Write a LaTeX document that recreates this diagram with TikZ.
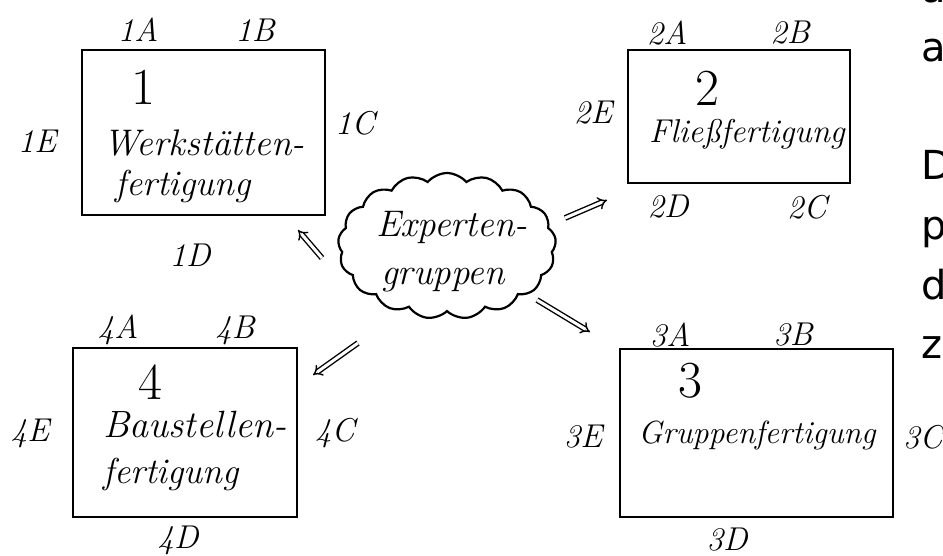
\documentclass[tikz,border=0pt]{standalone}
\usepackage{fontspec}
\newfontfamily\edgefont{DejaVu Sans}
\usetikzlibrary{arrows.meta,shapes.symbols}
\definecolor{skInk}{RGB}{0,0,0}

\tikzset{
  station/.style={draw=skInk, line width=2.6pt, inner sep=0pt},
  corner/.style={font=\fontsize{33pt}{36pt}\selectfont\itshape, text=skInk, inner sep=0pt},
  stnum/.style={font=\fontsize{52pt}{56pt}\selectfont, text=skInk, anchor=base, inner sep=0pt},
  sttext/.style={font=\fontsize{36pt}{40pt}\selectfont\itshape, text=skInk, anchor=base, inner sep=0pt},
  hint/.style={skInk, double, double distance=3pt, line width=1.4pt, -{Implies[scale=1.3]}},
  edgetxt/.style={font=\edgefont\fontsize{40pt}{44pt}\selectfont, anchor=base west, inner sep=0pt}
}

\begin{document}
\begin{tikzpicture}[x=1pt, y=-1pt]
  \useasboundingbox (0,0) rectangle (943,556);
  \clip (0,0) rectangle (943,556);

  % Box 1
  \node[station, minimum width=243pt, minimum height=165pt] (box1) at (203.5,132.5) {};
  \node[stnum] (num1) at (143,105) {1};
  \node[sttext, font=\fontsize{37pt}{40pt}\selectfont\itshape] (txt1a) at (204,156) {Werkstätten-};
  \node[sttext] (txt1b) at (183,196) {fertigung};
  \node[corner] (c1A) at (138,30) {1A};
  \node[corner] (c1B) at (255,30) {1B};
  \node[corner] (c1C) at (355,123) {1C};
  \node[corner] (c1D) at (190,255) {1D};
  \node[corner] (c1E) at (37,141) {1E};

  % Box 2
  \node[station, minimum width=222pt, minimum height=133pt] (box2) at (739,116.5) {};
  \node[stnum] (num2) at (707,106) {2};
  \node[sttext, font=\fontsize{33pt}{36pt}\selectfont\itshape] (txt2) at (747,143) {Fließfertigung};
  \node[corner] (c2A) at (667,33) {2A};
  \node[corner] (c2B) at (790,33) {2B};
  \node[corner] (c2C) at (807,207) {2C};
  \node[corner] (c2D) at (668,207) {2D};
  \node[corner] (c2E) at (593,113) {2E};

  % Box 3
  \node[station, minimum width=273pt, minimum height=168pt] (box3) at (756.5,433) {};
  \node[stnum] (num3) at (690,397) {3};
  \node[sttext, font=\fontsize{32pt}{36pt}\selectfont\itshape] (txt3) at (757,443) {Gruppenfertigung};
  \node[corner] (c3A) at (670,335) {3A};
  \node[corner] (c3B) at (793,335) {3B};
  \node[corner] (c3C) at (923,437) {3C};
  \node[corner] (c3D) at (727,540) {3D};
  \node[corner] (c3E) at (583,437) {3E};

  % Box 4
  \node[station, minimum width=224pt, minimum height=169pt] (box4) at (185,432.5) {};
  \node[stnum] (num4) at (150,399) {4};
  \node[sttext, font=\fontsize{38pt}{42pt}\selectfont\itshape] (txt4a) at (195,437) {Baustellen-};
  \node[sttext] (txt4b) at (171,483) {fertigung};
  \node[corner] (c4A) at (118,330) {4A};
  \node[corner] (c4B) at (235,330) {4B};
  \node[corner] (c4C) at (335,433) {4C};
  \node[corner] (c4D) at (178,540) {4D};
  \node[corner] (c4E) at (30,433) {4E};

  % Expert cloud
  \node[cloud, draw=skInk, line width=2.2pt, cloud puffs=17, cloud puff arc=100, aspect=1.5,
        minimum width=218pt, minimum height=146pt, inner sep=0pt] (expert) at (447,246) {};
  \node[sttext, font=\fontsize{37pt}{40pt}\selectfont\itshape] (exptA) at (452,237) {Experten-};
  \node[sttext, font=\fontsize{37pt}{40pt}\selectfont\itshape] (exptB) at (443,285) {gruppen};

  % Arrows towards the stations
  \coordinate (a1s) at (322,258); \coordinate (a1e) at (298,230);
  \coordinate (a2s) at (565,218); \coordinate (a2e) at (607,200);
  \coordinate (a3s) at (537,300); \coordinate (a3e) at (590,332);
  \coordinate (a4s) at (358,343); \coordinate (a4e) at (313,375);
  \draw[hint] (a1s) -- (a1e);
  \draw[hint] (a2s) -- (a2e);
  \draw[hint] (a3s) -- (a3e);
  \draw[hint] (a4s) -- (a4e);

  % Cut-off text at the right edge
  \node[edgetxt] (e1) at (921,3) {a};
  \node[edgetxt] (e2) at (921,62) {a};
  \node[edgetxt] (e3) at (921,180) {D};
  \node[edgetxt] (e4) at (921,240) {p};
  \node[edgetxt] (e5) at (921,300) {d};
  \node[edgetxt] (e6) at (921,358) {z};
\end{tikzpicture}
\end{document}
